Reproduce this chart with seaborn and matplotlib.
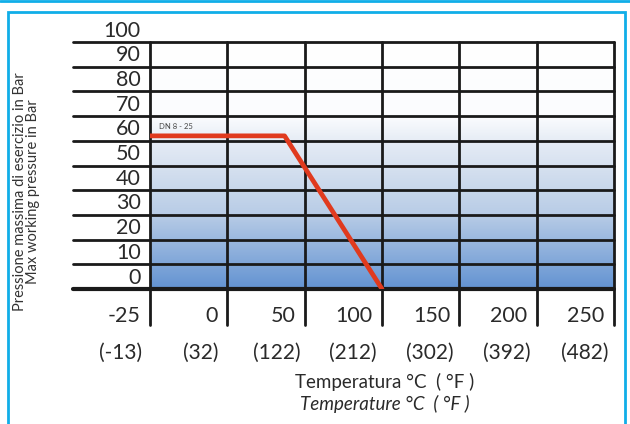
"""
Max working pressure vs temperature (DN 8 - 25).
"""
import numpy as np
import pandas as pd
import matplotlib
matplotlib.use("Agg")
import matplotlib.pyplot as plt
import matplotlib.transforms as mtransforms
from matplotlib.colors import LinearSegmentedColormap
from matplotlib.patches import Rectangle
import seaborn as sns

# --- data ---
temp_c_ticks = [-25, 0, 50, 100, 150, 200, 250]
temp_f_ticks = ["(-13)", "(32)", "(122)", "(212)", "(302)", "(392)", "(482)"]
pressure_ticks = [0, 10, 20, 30, 40, 50, 60, 70, 80, 90, 100]

curve_temp_c = [-25, 37, 100]
curve_pressure = [62, 62, 0]
curve_label = "DN 8 - 25"

ylabel_it = "Pressione massima di esercizio in Bar"
ylabel_en = "Max working pressure in Bar"
xlabel_it = "Temperatura °C  ( °F )"
xlabel_en = "Temperature °C  ( °F )"

sns.set_theme(style="white")
plt.rcParams["font.family"] = ["Lato", "DejaVu Sans"]

W, H = 630, 424
fig = plt.figure(figsize=(W / 100, H / 100), dpi=100)
fig.patch.set_facecolor("white")

# plot area in pixel coords: x 150..614, y 42..289
ax = fig.add_axes([150 / W, 1 - 289 / H, 464 / W, 247 / H])
ax.set_xlim(0, len(temp_c_ticks) - 1)
ax.set_ylim(0, 100)
for s in ax.spines.values():
    s.set_visible(False)
ax.set_xticks([]); ax.set_yticks([])

# gradient background: white on top, blue at bottom
cmap = LinearSegmentedColormap.from_list(
    "bg", [(0.0, "#6393d2"), (0.3, "#b8cce6"), (0.6, "#e6ecf5"),
           (0.7, "#fbfcfe"), (1.0, "#ffffff")])
grad = np.linspace(0, 1, 256).reshape(-1, 1)
ax.imshow(grad, extent=[0, 6, 0, 100], origin="lower", aspect="auto",
          cmap=cmap, zorder=0)

# grid: horizontal lines extend left under the labels, vertical lines extend down
for p in pressure_ticks:
    ax.axhline(p, xmin=-77 / 464, xmax=1, color="#1a1a1a",
               lw=3.0 if p == 0 else 2.0, clip_on=False, zorder=2)
for i in range(len(temp_c_ticks)):
    ax.axvline(i, ymin=-36 / 247, ymax=1, color="#1a1a1a", lw=2.0,
               clip_on=False, zorder=2)

# red curve (temperature mapped onto the evenly spaced columns)
pos = np.interp(curve_temp_c, temp_c_ticks, np.arange(len(temp_c_ticks)))
df = pd.DataFrame({"pos": pos, "pressure": curve_pressure})
sns.lineplot(data=df, x="pos", y="pressure", ax=ax, color="#e03a1e",
             lw=3.4, zorder=3, sort=False)
ax.set_xlabel(""); ax.set_ylabel("")
ax.text(0.12, curve_pressure[0] + 2.5, curve_label, fontsize=5.5,
        color="#444444", ha="left", va="bottom", zorder=4)

txt = "#2a2a2a"

# y labels sit just above their line
ytr = mtransforms.blended_transform_factory(ax.transAxes, ax.transData)
for p in pressure_ticks:
    ax.text(-0.02, p + 0.6, str(p), transform=ytr, ha="right", va="bottom",
            fontsize=15.5, color=txt)

# x labels: °C to the left of each line, °F below
xtr = mtransforms.blended_transform_factory(ax.transData, ax.transAxes)
for i, (c, f) in enumerate(zip(temp_c_ticks, temp_f_ticks)):
    ax.text(i - 0.12, -0.11, str(c), transform=xtr, ha="right",
            va="center", fontsize=15.5, color=txt)
    ax.text(i - 0.12 - 0.02 * len(str(c)) - 0.2, -0.26, f, transform=xtr,
            ha="center", va="center", fontsize=15, color=txt)

fig.text(385 / W, 1 - 382 / H, xlabel_it, ha="center", va="center",
         fontsize=13.5, color=txt)
fig.text(385 / W, 1 - 404 / H, xlabel_en, ha="center", va="center",
         fontsize=13.5, color=txt, style="italic")

fig.text(20 / W, 1 - 192 / H, ylabel_it, rotation=90, ha="center",
         va="center", fontsize=10.5, color="#333333")
fig.text(33 / W, 1 - 192 / H, ylabel_en, rotation=90, ha="center",
         va="center", fontsize=10.5, color="#333333")

# light blue frame
fig.patches.append(Rectangle((8 / W, -0.05), (625 - 8) / W, 1.05 - 12 / H,
                             transform=fig.transFigure, fill=False,
                             edgecolor="#10aee8", lw=2))
fig.add_artist(plt.Line2D([0, 1], [1 - 0.5 / H, 1 - 0.5 / H],
                          transform=fig.transFigure, color="#10aee8", lw=2))

fig.savefig("out.png", dpi=100)
